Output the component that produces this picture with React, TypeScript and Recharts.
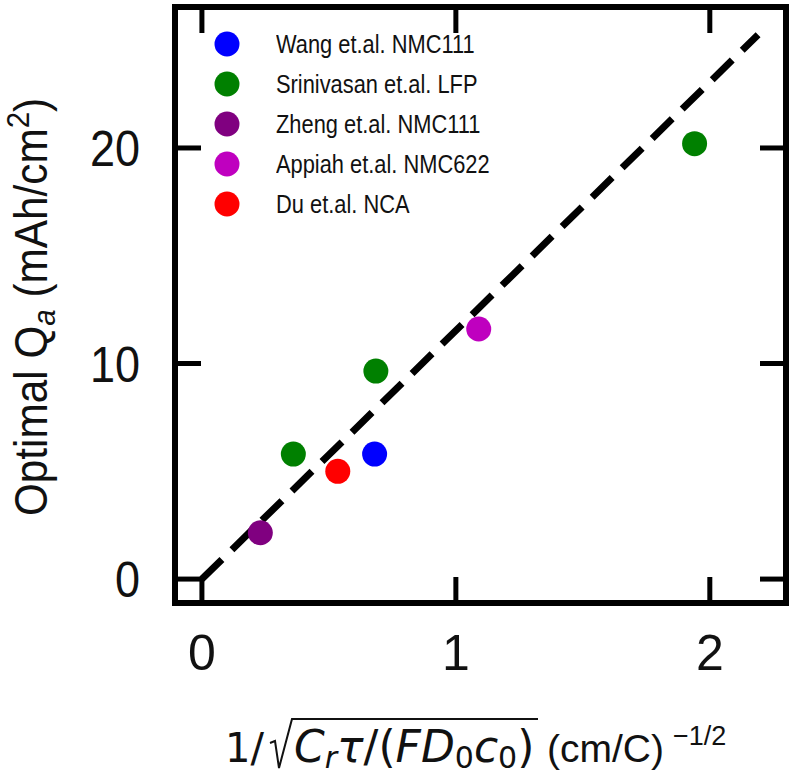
import { ScatterChart, Scatter, XAxis, YAxis, ReferenceLine, Legend, Label } from "recharts";

const seriesNames = [
  "Wang et.al. NMC111",
  "Srinivasan et.al. LFP",
  "Zheng et.al. NMC111",
  "Appiah et.al. NMC622",
  "Du et.al. NCA",
];
const seriesColors = ["#0000ff", "#008000", "#800080", "#bf00bf", "#ff0000"];

const wang = [{ x: 0.68, y: 5.8 }];
const srinivasan = [
  { x: 0.36, y: 5.8 },
  { x: 0.685, y: 9.65 },
  { x: 1.94, y: 20.2 },
];
const zheng = [{ x: 0.23, y: 2.15 }];
const appiah = [{ x: 1.09, y: 11.6 }];
const du = [{ x: 0.535, y: 5.0 }];
const seriesData = [wang, srinivasan, zheng, appiah, du];

const fitLine = [
  { x: 0, y: 0 },
  { x: 2.19, y: 25.25 },
];

const xTicks = [0, 1, 2];
const yTicks = [0, 10, 20];
const xDomain: [number, number] = [-0.106, 2.3];
const yDomain: [number, number] = [-1.11, 26.54];

const SANS = "'Liberation Sans', Arial, sans-serif";
const MATH = "'DejaVu Sans', sans-serif";
const INK = "#111";
const TICK = 26;

const frame = { stroke: "#000", strokeWidth: 6, strokeLinecap: "square" as const };

function BottomTick({ x, y, payload }: any) {
  return (
    <g>
      <line x1={x} x2={x} y1={y} y2={y - TICK} stroke="#000" strokeWidth={5} />
      <text x={x} y={y + 67} textAnchor="middle" fontSize={50} fontFamily={SANS} fill={INK}>
        {payload.value}
      </text>
    </g>
  );
}

function TopTick({ x, y }: any) {
  return <line x1={x} x2={x} y1={y} y2={y + TICK} stroke="#000" strokeWidth={5} />;
}

function LeftTick({ x, y, payload }: any) {
  return (
    <g>
      <line x1={x} x2={x + TICK} y1={y} y2={y} stroke="#000" strokeWidth={5} />
      <text
        transform={`translate(${x - 35},${y + 18}) scale(0.9,1)`}
        textAnchor="end"
        fontSize={50}
        fontFamily={SANS}
        fill={INK}
      >
        {payload.value}
      </text>
    </g>
  );
}

function RightTick({ x, y }: any) {
  return <line x1={x} x2={x - TICK} y1={y} y2={y} stroke="#000" strokeWidth={5} />;
}

function YTitle({ viewBox }: any) {
  const cx = viewBox.x + viewBox.width - 128;
  const cy = viewBox.y + 300;
  return (
    <text
      transform={`translate(${cx},${cy}) rotate(-90) scale(0.92,1)`}
      textAnchor="middle"
      fontSize={46}
      fontFamily={SANS}
      fill={INK}
    >
      Optimal Q
      <tspan fontStyle="italic" fontSize={32} dy={8}>a</tspan>
      <tspan dy={-8}> (mAh/cm</tspan>
      <tspan fontSize={32} dy={-18}>2</tspan>
      <tspan dy={18}>)</tspan>
    </text>
  );
}

function XTitle({ viewBox }: any) {
  const x0 = viewBox.x + 50;
  const base = viewBox.y + 159;
  return (
    <g fill={INK}>
      <text x={x0} y={base} fontSize={40} fontFamily={MATH}>1/</text>
      <path
        d={`M${x0 + 45},${base - 19} L${x0 + 50},${base - 21} L${x0 + 54},${base + 6} L${x0 + 67},${base - 43} L${x0 + 313},${base - 43}`}
        fill="none"
        stroke={INK}
        strokeWidth={2}
      />
      <text x={x0 + 69} y={base} fontSize={44} fontFamily={MATH}>
        <tspan fontStyle="italic">C</tspan>
        <tspan fontStyle="italic" fontSize={30} dy={6}>r</tspan>
        <tspan fontStyle="italic" dy={-6}>τ</tspan>
        <tspan>/(</tspan>
        <tspan fontStyle="italic">FD</tspan>
        <tspan fontSize={30} dy={6}>0</tspan>
        <tspan fontStyle="italic" dy={-6}>c</tspan>
        <tspan fontSize={30} dy={6}>0</tspan>
        <tspan dy={-6}>)</tspan>
      </text>
      <text x={x0 + 322} y={base} fontSize={39} fontFamily={SANS}>(cm/C)</text>
      <text x={x0 + 448} y={base - 17} fontSize={27} fontFamily={SANS}>−1/2</text>
    </g>
  );
}

function LegendBox() {
  return (
    <div>
      {seriesNames.map((name, i) => (
        <div key={name} style={{ display: "flex", alignItems: "center", height: 40 }}>
          <svg width={30} height={30}>
            <circle cx={15} cy={15} r={12.5} fill={seriesColors[i]} />
          </svg>
          <span
            style={{
              marginLeft: 34,
              fontFamily: SANS,
              fontSize: 26,
              color: INK,
              display: "inline-block",
              transform: "scaleX(0.84)",
              transformOrigin: "left center",
              whiteSpace: "nowrap",
            }}
          >
            {name}
          </span>
        </div>
      ))}
    </div>
  );
}

export default function App() {
  return (
    <div style={{ position: "absolute", left: 0, top: 0, background: "#fff" }}>
      <ScatterChart width={796} height={776} margin={{ top: 6, right: 9, bottom: 172, left: 174 }}>
        <XAxis
          xAxisId="b"
          type="number"
          dataKey="x"
          domain={xDomain}
          ticks={xTicks}
          interval={0}
          allowDataOverflow
          orientation="bottom"
          height={1}
          tickSize={0}
          tickMargin={0}
          tickLine={false}
          axisLine={frame}
          tick={BottomTick}
        >
          <Label content={XTitle} />
        </XAxis>
        <XAxis
          xAxisId="t"
          type="number"
          dataKey="x"
          domain={xDomain}
          ticks={xTicks}
          interval={0}
          allowDataOverflow
          orientation="top"
          height={1}
          tickSize={0}
          tickMargin={0}
          tickLine={false}
          axisLine={frame}
          tick={TopTick}
        />
        <YAxis
          yAxisId="l"
          type="number"
          dataKey="y"
          domain={yDomain}
          ticks={yTicks}
          interval={0}
          allowDataOverflow
          orientation="left"
          width={1}
          tickSize={0}
          tickMargin={0}
          tickLine={false}
          axisLine={frame}
          tick={LeftTick}
        >
          <Label content={YTitle} />
        </YAxis>
        <YAxis
          yAxisId="r"
          type="number"
          dataKey="y"
          domain={yDomain}
          ticks={yTicks}
          interval={0}
          allowDataOverflow
          orientation="right"
          width={1}
          tickSize={0}
          tickMargin={0}
          tickLine={false}
          axisLine={frame}
          tick={RightTick}
        />
        <Legend
          layout="vertical"
          align="center"
          verticalAlign="middle"
          content={LegendBox}
          wrapperStyle={{ left: 212, top: 24, width: 320 }}
        />
        {seriesData.map((d, i) => (
          <Scatter
            key={seriesNames[i]}
            name={seriesNames[i]}
            data={d}
            xAxisId="b"
            yAxisId="l"
            fill={seriesColors[i]}
            isAnimationActive={false}
            shape={(p: any) => <circle cx={p.cx} cy={p.cy} r={12.5} fill={seriesColors[i]} />}
          />
        ))}
        <ReferenceLine
          xAxisId="b"
          yAxisId="l"
          segment={fitLine}
          stroke="#000"
          strokeWidth={7}
          strokeDasharray="28 14"
          ifOverflow="visible"
        />
      </ScatterChart>
    </div>
  );
}
